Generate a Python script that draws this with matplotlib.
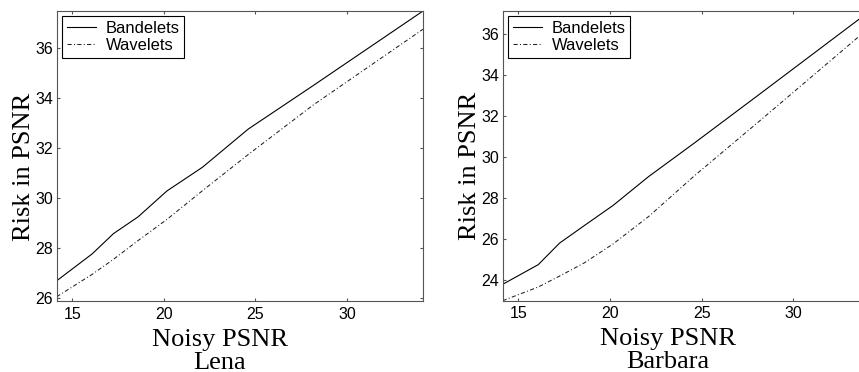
import matplotlib
matplotlib.use("Agg")
import matplotlib.pyplot as plt

# Noisy PSNR values (sigma = 50, 40, 35, 30, 25, 20, 15, 10, 5)
noisy_psnr = [14.15, 16.09, 17.25, 18.59, 20.17, 22.11, 24.61, 28.13, 34.15]

lena_bandelets = [26.69, 27.77, 28.58, 29.25, 30.29, 31.24, 32.77, 34.50, 37.50]
lena_wavelets = [26.05, 26.95, 27.55, 28.30, 29.15, 30.30, 31.75, 33.72, 36.77]

barbara_bandelets = [23.80, 24.76, 25.81, 26.66, 27.65, 29.06, 30.70, 33.06, 37.12]
barbara_wavelets = [23.00, 23.67, 24.20, 24.84, 25.77, 27.11, 29.10, 31.75, 36.33]

panel_names = ["Lena", "Barbara"]
series_names = ["Bandelets", "Wavelets"]
lena_yticks = [26, 28, 30, 32, 34, 36]
barbara_yticks = [24, 26, 28, 30, 32, 34, 36]
xticks = [15, 20, 25, 30]

SANS = "Liberation Sans"
SERIF = "Liberation Serif"
SPINE = "#555555"

fig = plt.figure(figsize=(8.59, 3.72), dpi=100)

ax1 = fig.add_axes([56.7 / 859, (372 - 301) / 372, 366.3 / 859, 290 / 372])
ax2 = fig.add_axes([502.7 / 859, (372 - 300.7) / 372, 366.7 / 859, 289.7 / 372])

panels = [
    (ax1, lena_bandelets, lena_wavelets, lena_yticks, (25.88, 37.50), panel_names[0], 0.445, -0.0587, 0.464),
    (ax2, barbara_bandelets, barbara_wavelets, barbara_yticks, (23.00, 37.14), panel_names[1], 0.451, -0.060, 0.467),
]

for ax, band, wave, yt, ylim, name, xlab_x, ylab_x, ylab_y in panels:
    ax.plot(noisy_psnr, band, color="black", lw=0.8, ls="-", label=series_names[0])
    ax.plot(noisy_psnr, wave, color="#222222", lw=0.75, ls=(0, (4, 2.2, 1, 2.2)), label=series_names[1])
    ax.set_xlim(noisy_psnr[0], noisy_psnr[-1])
    ax.set_ylim(*ylim)
    ax.set_xticks(xticks)
    ax.set_yticks(yt)
    ax.tick_params(direction="in", top=True, right=True, length=2.5, width=0.8,
                   color=SPINE, labelsize=11.5, labelcolor="black")
    ax.tick_params(axis="x", pad=4)
    ax.tick_params(axis="y", pad=2.5)
    for lab in ax.get_xticklabels() + ax.get_yticklabels():
        lab.set_fontfamily(SANS)
    for s in ax.spines.values():
        s.set_color(SPINE)
        s.set_linewidth(0.8)
    ax.set_xlabel("Noisy PSNR\n" + name, fontfamily=SERIF, fontsize=19, linespacing=1.05)
    ax.xaxis.set_label_coords(xlab_x, -0.0955)
    ax.set_ylabel("Risk in PSNR", fontfamily=SERIF, fontsize=19)
    ax.yaxis.set_label_coords(ylab_x, ylab_y)
    leg = ax.legend(loc="upper left", prop={"family": SANS, "size": 11.9},
                    fancybox=False, framealpha=1, edgecolor="black",
                    borderpad=0.3, borderaxespad=0.3, handlelength=1.75,
                    handletextpad=0.6, labelspacing=0.1)
    leg.get_frame().set_linewidth(0.8)

fig.savefig("out.png", dpi=100)
